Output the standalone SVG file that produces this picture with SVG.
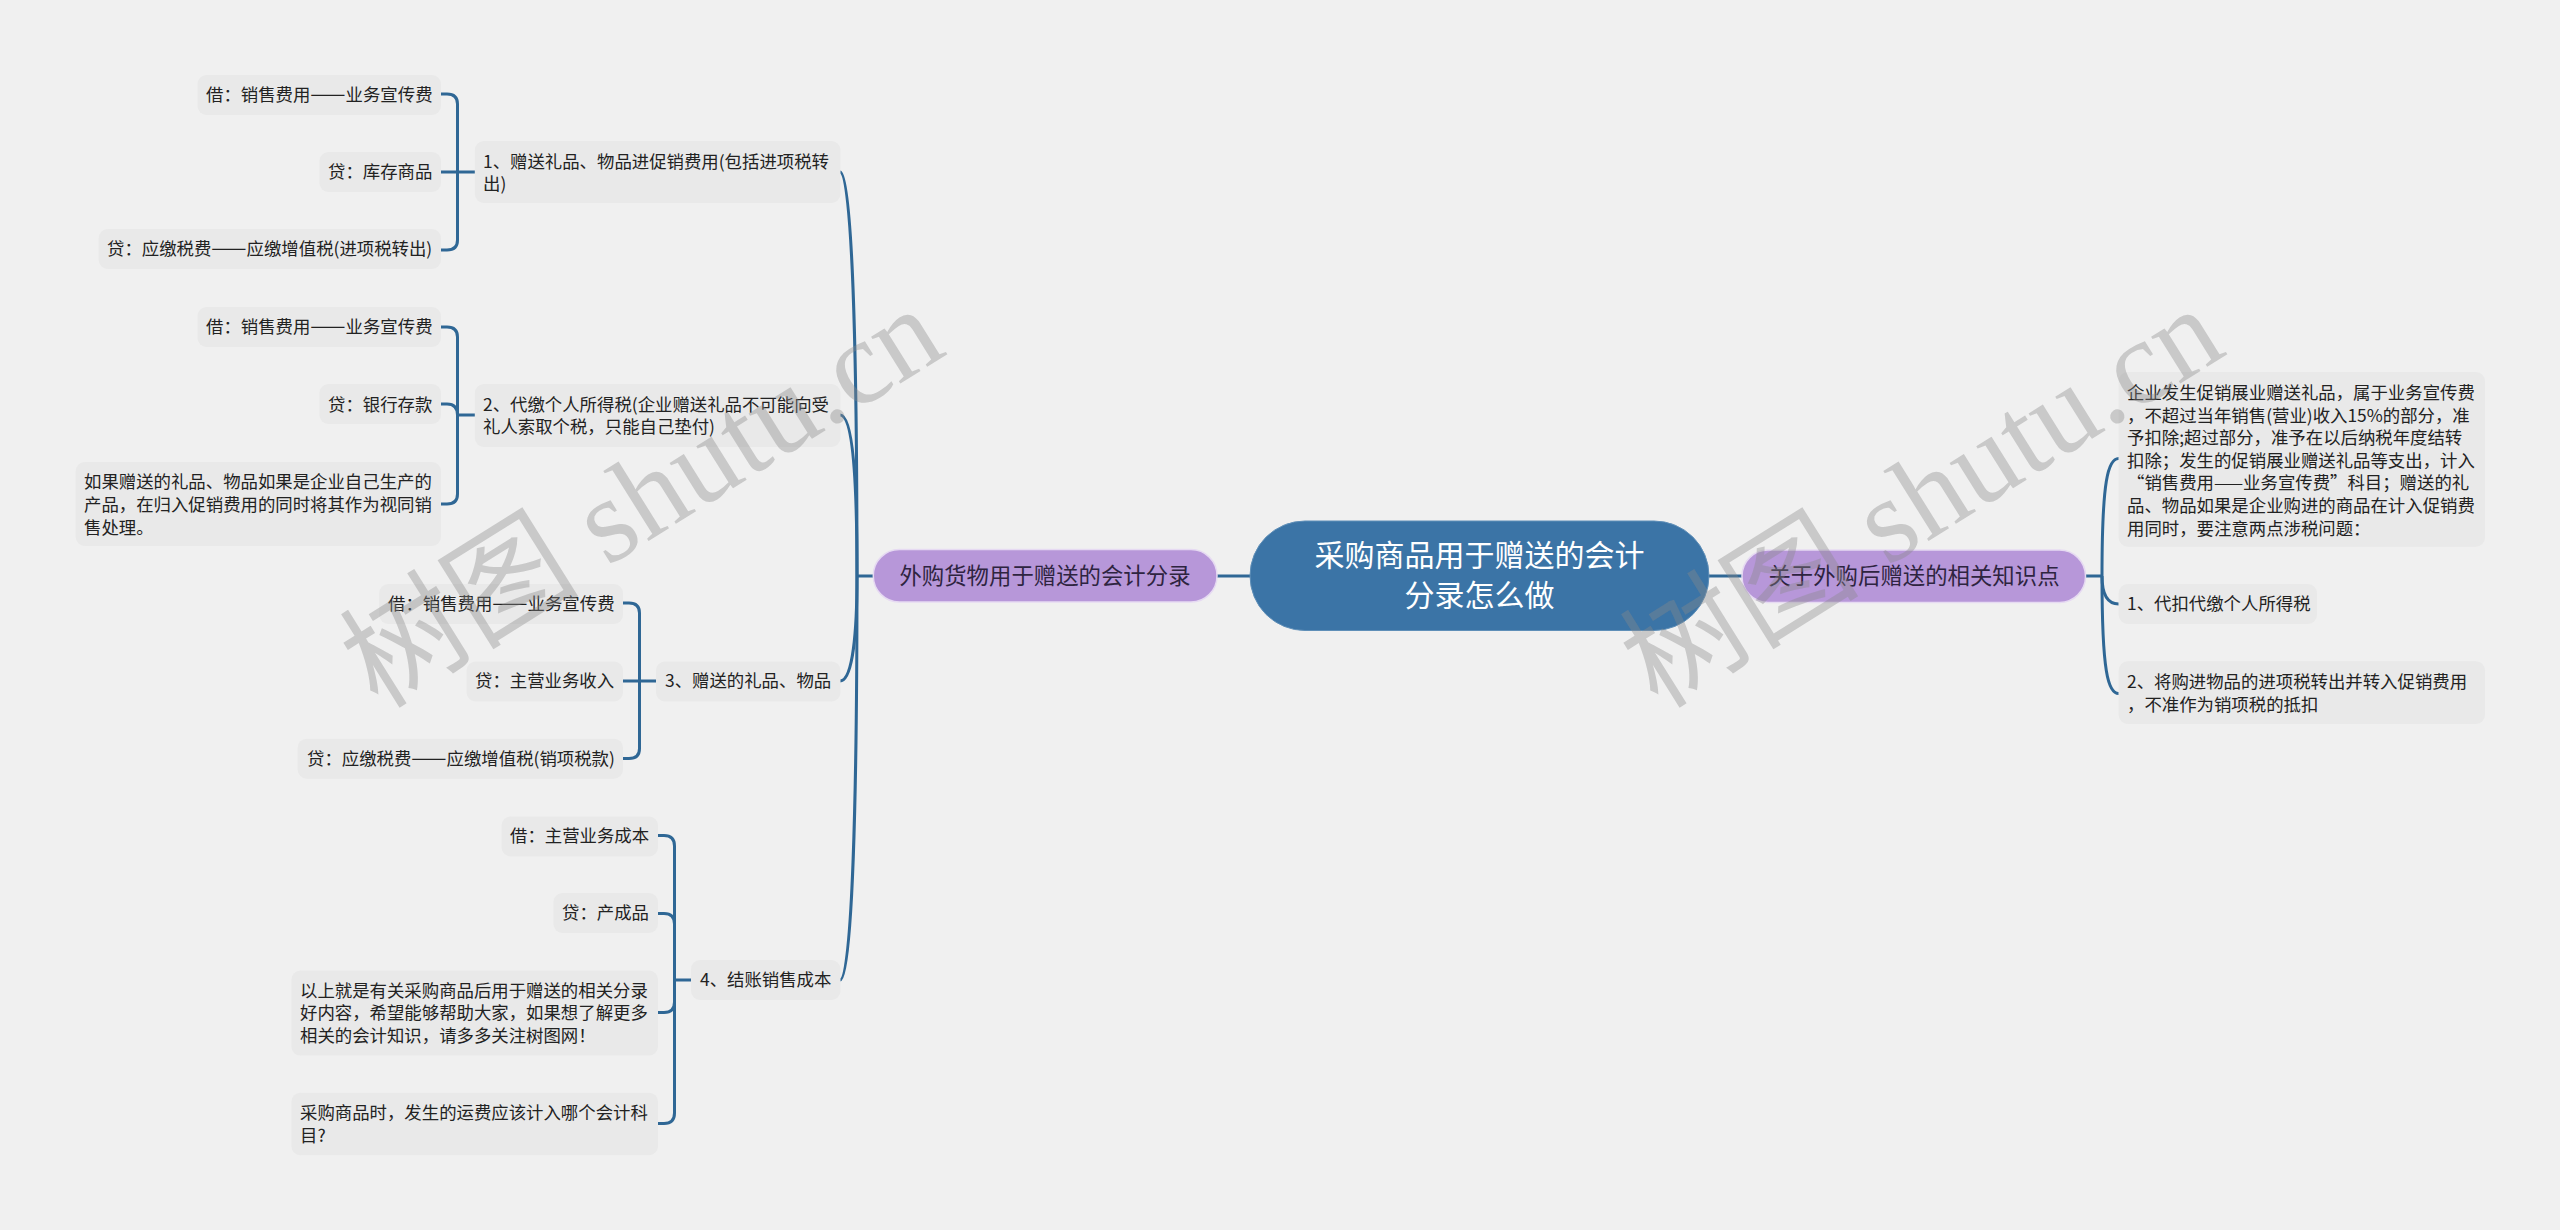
<svg xmlns="http://www.w3.org/2000/svg" width="2560" height="1230" viewBox="0 0 2560 1230">
<style>
text{font-family:"Noto Sans CJK SC","Liberation Sans",sans-serif;fill:#222}
.n rect{fill:#e9e9e9}
.n text{font-size:17.4px}
.n .d{font-size:21px}
.t rect{fill:#b797d9;stroke:#e6daf2;stroke-width:1.5}
.t text{font-size:22.4px;text-anchor:middle;fill:#2e2440}
.r rect{fill:#3b74a6;stroke:#5f8fb8;stroke-width:1}
.r text{font-size:30px;text-anchor:middle;fill:#fff}
.c path{fill:none;stroke:#2f6795;stroke-width:3}
.w text{font-family:"Liberation Serif","Noto Sans CJK SC",serif;font-size:120px;fill:#8a8a8a;fill-opacity:.38}
</style>
<rect width="2560" height="1230" fill="#f0f0f0"/>
<g id="connectors" class="c">
<path d="M1250 576H1217"/>
<path d="M1709 576H1743"/>
<path d="M873 576H857"/>
<path d="M857 576C857 350 852 172 840 172"/>
<path d="M857 576C857 480 853 415 840 415"/>
<path d="M857 576C857 630 853 681 840 681"/>
<path d="M857 576C857 800 852 980 840 980"/>
<path d="M475 172H441M441 94H447Q457.500 94 457.500 104V240Q457.500 250 447 250H441"/>
<path d="M475 415H457.500M441 327H447Q457.500 327 457.500 337V494Q457.500 504 447 504H441M441 404H447Q457.500 404 457.500 415"/>
<path d="M656 681H623M623 603H629Q639.500 603 639.500 613V748.500Q639.500 758.500 629 758.500H623"/>
<path d="M691 980H674.500M658 835.500H664Q674.500 835.500 674.500 846V1113Q674.500 1123.500 664 1123.500H658M658 913.500H664Q674.500 913.500 674.500 924M658 1012.500H664Q674.500 1012.500 674.500 1002"/>
<path d="M2085.500 576H2102"/>
<path d="M2118.700 458.500C2108 458.500 2102 480 2102 576C2102 672 2108 693.500 2118.700 693.500"/>
<path d="M2102 576C2102 596 2108 604 2118.700 604"/>
</g>
<g id="root" class="r"><rect x="1250" y="521" width="459" height="109.500" rx="55"/><text x="1479.500" y="566">采购商品用于赠送的会计</text><text x="1479.500" y="606">分录怎么做</text></g>
<g id="topic-left" class="t"><rect x="873.300" y="549.500" width="343.700" height="52.500" rx="26"/><text x="1045" y="584">外购货物用于赠送的会计分录</text></g>
<g id="topic-right" class="t"><rect x="1742" y="550" width="343.500" height="52.500" rx="26"/><text x="1914" y="584">关于外购后赠送的相关知识点</text></g>
<g id="n1" class="n"><rect x="474.800" y="141" width="365.700" height="62" rx="9"/><text x="483" y="168">1、赠送礼品、物品进促销费用(包括进项税转</text><text x="483" y="190">出)</text></g>
<g id="n1a" class="n"><rect x="197.500" y="75" width="243.500" height="40" rx="9"/><text x="206" y="101">借：销售费用<tspan class="d">——</tspan>业务宣传费</text></g>
<g id="n1b" class="n"><rect x="319.400" y="152" width="121.600" height="40" rx="9"/><text x="328" y="178">贷：库存商品</text></g>
<g id="n1c" class="n"><rect x="98.700" y="229" width="342.300" height="40" rx="9"/><text x="107" y="255">贷：应缴税费<tspan class="d">——</tspan>应缴增值税(进项税转出)</text></g>
<g id="n2" class="n"><rect x="474.800" y="384" width="365.700" height="63" rx="9"/><text x="483" y="411">2、代缴个人所得税(企业赠送礼品不可能向受</text><text x="483" y="433">礼人索取个税，只能自己垫付)</text></g>
<g id="n2a" class="n"><rect x="197.500" y="307" width="243.500" height="40" rx="9"/><text x="206" y="333">借：销售费用<tspan class="d">——</tspan>业务宣传费</text></g>
<g id="n2b" class="n"><rect x="319.400" y="384" width="121.600" height="40" rx="9"/><text x="328" y="411">贷：银行存款</text></g>
<g id="n2c" class="n"><rect x="75.700" y="462" width="365.300" height="84" rx="9"/><text x="84" y="488">如果赠送的礼品、物品如果是企业自己生产的</text><text x="84" y="511">产品，在归入促销费用的同时将其作为视同销</text><text x="84" y="534">售处理。</text></g>
<g id="n3" class="n"><rect x="656" y="661.400" width="184.500" height="40" rx="9"/><text x="665" y="687">3、赠送的礼品、物品</text></g>
<g id="n3a" class="n"><rect x="379.200" y="584" width="243.800" height="40" rx="9"/><text x="388" y="610">借：销售费用<tspan class="d">——</tspan>业务宣传费</text></g>
<g id="n3b" class="n"><rect x="466.600" y="661.400" width="156.400" height="40" rx="9"/><text x="475" y="687">贷：主营业务收入</text></g>
<g id="n3c" class="n"><rect x="297.700" y="738.700" width="325.300" height="40" rx="9"/><text x="307" y="765">贷：应缴税费<tspan class="d">——</tspan>应缴增值税(销项税款)</text></g>
<g id="n4" class="n"><rect x="691" y="960" width="149.500" height="40" rx="9"/><text x="700" y="986">4、结账销售成本</text></g>
<g id="n4a" class="n"><rect x="501.600" y="816.400" width="156.400" height="40" rx="9"/><text x="510" y="842">借：主营业务成本</text></g>
<g id="n4b" class="n"><rect x="553.400" y="893" width="104.600" height="40" rx="9"/><text x="562" y="919">贷：产成品</text></g>
<g id="n4c" class="n"><rect x="291.400" y="970.600" width="366.600" height="85" rx="9"/><text x="300" y="997">以上就是有关采购商品后用于赠送的相关分录</text><text x="300" y="1019">好内容，希望能够帮助大家，如果想了解更多</text><text x="300" y="1042">相关的会计知识，请多多关注树图网！</text></g>
<g id="n4d" class="n"><rect x="291.400" y="1092.700" width="366.600" height="62.500" rx="9"/><text x="300" y="1119">采购商品时，发生的运费应该计入哪个会计科</text><text x="300" y="1142">目?</text></g>
<g id="r1" class="n"><rect x="2118.700" y="372" width="366.300" height="174.700" rx="9"/><text x="2127" y="399">企业发生促销展业赠送礼品，属于业务宣传费</text><text x="2127" y="422">，不超过当年销售(营业)收入15%的部分，准</text><text x="2127" y="444">予扣除;超过部分，准予在以后纳税年度结转</text><text x="2127" y="467">扣除；发生的促销展业赠送礼品等支出，计入</text><text x="2127" y="489">“销售费用——业务宣传费”科目；赠送的礼</text><text x="2127" y="512">品、物品如果是企业购进的商品在计入促销费</text><text x="2127" y="535">用同时，要注意两点涉税问题：</text></g>
<g id="r2" class="n"><rect x="2118.700" y="584" width="198.300" height="40" rx="9"/><text x="2127" y="610">1、代扣代缴个人所得税</text></g>
<g id="r3" class="n"><rect x="2118.700" y="661.300" width="366.300" height="62.700" rx="9"/><text x="2127" y="688">2、将购进物品的进项税转出并转入促销费用</text><text x="2127" y="711">，不准作为销项税的抵扣</text></g>
<g class="w"><text transform="translate(378 710) rotate(-32)">树图 shutu.cn</text><text transform="translate(1658 710) rotate(-32)">树图 shutu.cn</text></g>
</svg>
